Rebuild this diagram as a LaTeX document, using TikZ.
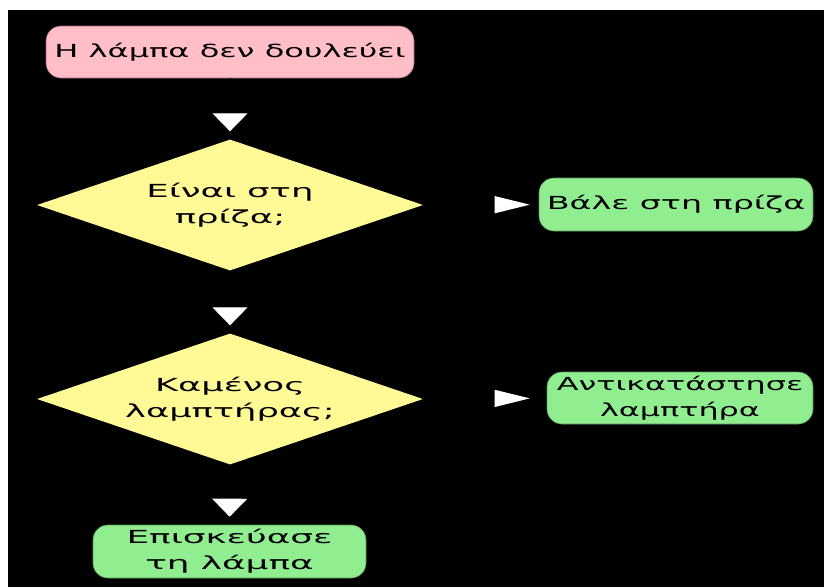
\documentclass[tikz,border=0pt]{standalone}
\usepackage{fontspec}
\setmainfont{DejaVu Sans}
\usetikzlibrary{shapes.geometric,arrows.meta}

\definecolor{startpink}{RGB}{255,190,200}
\definecolor{startedge}{RGB}{150,100,110}
\definecolor{askyellow}{RGB}{255,250,150}
\definecolor{actgreen}{RGB}{144,238,144}
\definecolor{actedge}{RGB}{90,150,90}

% widened sans text at a given horizontal stretch
\newcommand{\widetext}[1]{\fontsize{18pt}{26pt}\selectfont\addfontfeatures{FakeStretch=#1}}

\tikzset{
  startbox/.style={rectangle, rounded corners=15pt, fill=startpink, draw=startedge,
    line width=0.6pt, inner sep=0pt, align=center},
  askbox/.style={diamond, fill=askyellow, draw=none, inner sep=0pt, aspect=3,
    minimum width=386pt, minimum height=131pt, align=center},
  actbox/.style={rectangle, rounded corners=15pt, fill=actgreen, draw=actedge,
    line width=0.6pt, inner sep=0pt, align=center},
  label/.style={font=\widetext{#1}, text=black},
  flowdown/.style={draw=black, line width=1pt, shorten >=8pt,
    -{Triangle[color=white, length=18pt, width=35pt]}},
  flowright/.style={draw=black, line width=1pt, shorten >=9pt,
    -{Triangle[color=white, length=35pt, width=17pt]}},
}

\begin{document}
\begin{tikzpicture}[x=1pt, y=-1pt]
  \useasboundingbox (0,0) rectangle (824,587);
  \fill[white] (0,0) rectangle (824,587);
  \fill[black] (8,10) rectangle (824,587);

  \node[startbox, label=1.78, minimum width=368pt, minimum height=52pt] (lamp) at (230,52)
    {Η λάμπα δεν δουλεύει};
  \node[askbox, label=1.97] (plugged) at (230,205) {Είναι στη\\πρίζα;};
  \node[askbox, label=1.96] (bulb) at (230,399) {Καμένος\\λαμπτήρας;};
  \node[actbox, label=1.85, minimum width=274pt, minimum height=53pt] (plugin) at (676,204.5)
    {Βάλε στη πρίζα};
  \node[actbox, label=1.77, minimum width=266pt, minimum height=52pt] (replace) at (680,398)
    {Αντικατάστησε\\λαμπτήρα};
  \node[actbox, label=1.99, minimum width=273pt, minimum height=53pt] (repair) at (229.5,551.5)
    {Επισκεύασε\\τη λάμπα};

  \draw[flowdown] (lamp) -- (plugged);
  \draw[flowdown] (plugged) -- (bulb);
  \draw[flowdown] (bulb) -- (repair);
  \draw[flowright] (plugged) -- (plugin);
  \draw[flowright, shorten >=17pt] (bulb) -- (replace);
\end{tikzpicture}
\end{document}
